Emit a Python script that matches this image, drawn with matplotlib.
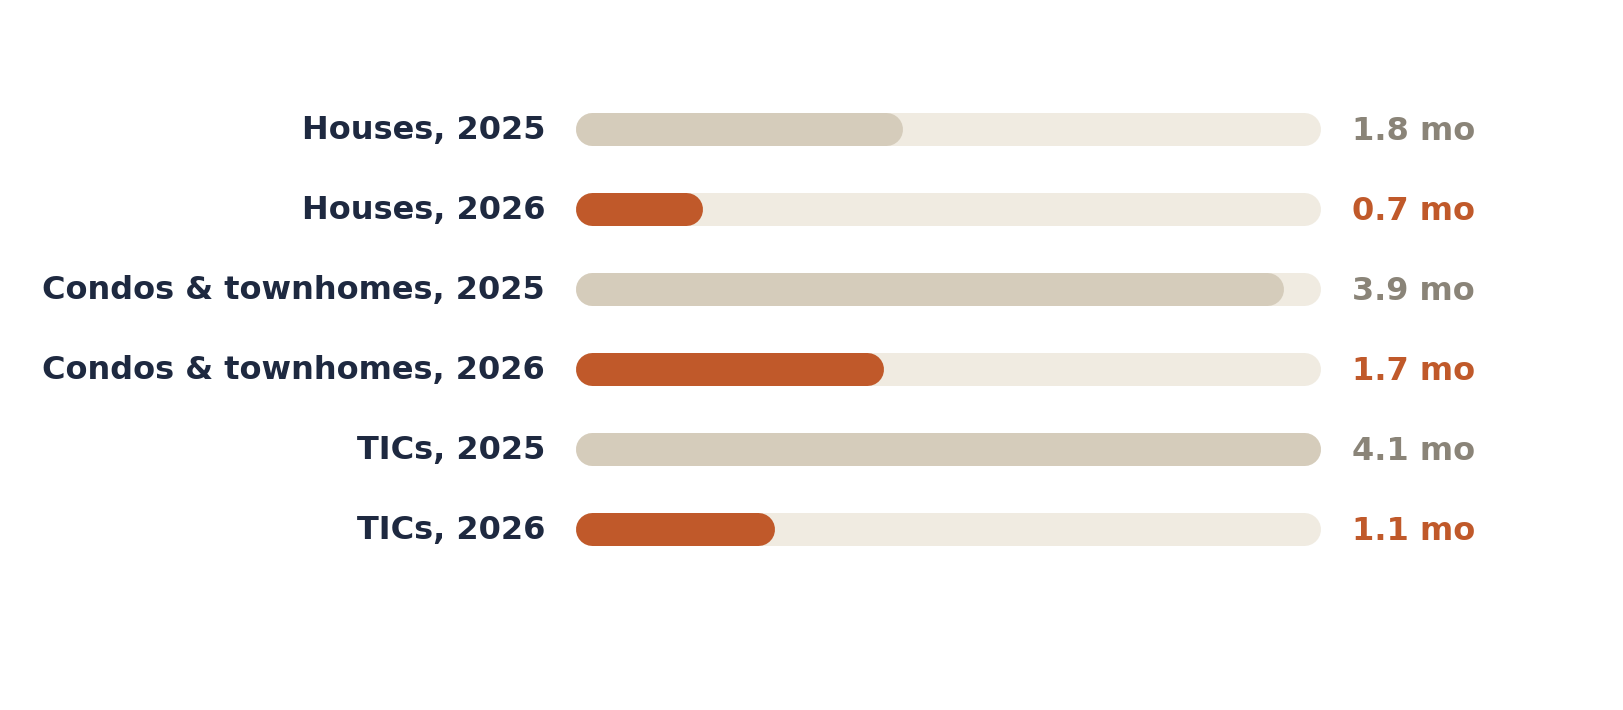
import matplotlib
matplotlib.use("Agg")
import matplotlib.pyplot as plt

categories = ["Houses, 2025", "Houses, 2026", "Condos & townhomes, 2025",
              "Condos & townhomes, 2026", "TICs, 2025", "TICs, 2026"]
values = [1.8, 0.7, 3.9, 1.7, 4.1, 1.1]
years = [2025, 2026, 2025, 2026, 2025, 2026]
value_labels = ["1.8 mo", "0.7 mo", "3.9 mo", "1.7 mo", "4.1 mo", "1.1 mo"]
max_val = 4.1

NAVY = "#1E2940"
ORANGE = "#C0592A"
TAN = "#D5CCBB"
TRACK = "#F0EBE1"
GRAY = "#8A8478"

W, H = 1623, 710
DPI = 100
fig = plt.figure(figsize=(W / DPI, H / DPI), dpi=DPI)
fig.patch.set_facecolor("white")

left_px, right_px = 575, 1320
n = len(categories)
row0 = 128.5
top_px = row0 - 40
bot_px = row0 + 80 * (n - 1) + 40
ax = fig.add_axes([left_px / W, 1 - bot_px / H, (right_px - left_px) / W, (bot_px - top_px) / H])
ax.set_xlim(0, max_val)
ax.set_ylim(n - 0.5, -0.5)
ax.axis("off")

bar_px = 33
px_per_x = (right_px - left_px) / max_val
r = (bar_px / 2) / px_per_x
lw = bar_px * 72 / DPI
dy = 2.5 / 80

for i, (cat, v, yr, lab) in enumerate(zip(categories, values, years, value_labels)):
    fill = ORANGE if yr == 2026 else TAN
    tcol = ORANGE if yr == 2026 else GRAY
    ax.plot([r, max_val - r], [i, i], color=TRACK, lw=lw, solid_capstyle="round",
            clip_on=False, zorder=1)
    ax.plot([r, v - r], [i, i], color=fill, lw=lw, solid_capstyle="round",
            clip_on=False, zorder=2)
    ax.text(-30 / px_per_x, i + dy, cat, ha="right", va="center", fontsize=23,
            fontweight="bold", color=NAVY, clip_on=False)
    ax.text(max_val + 32 / px_per_x, i + dy, lab, ha="left", va="center", fontsize=23,
            fontweight="bold", color=tcol, clip_on=False)

fig.savefig("out.png", dpi=DPI, facecolor="white")
